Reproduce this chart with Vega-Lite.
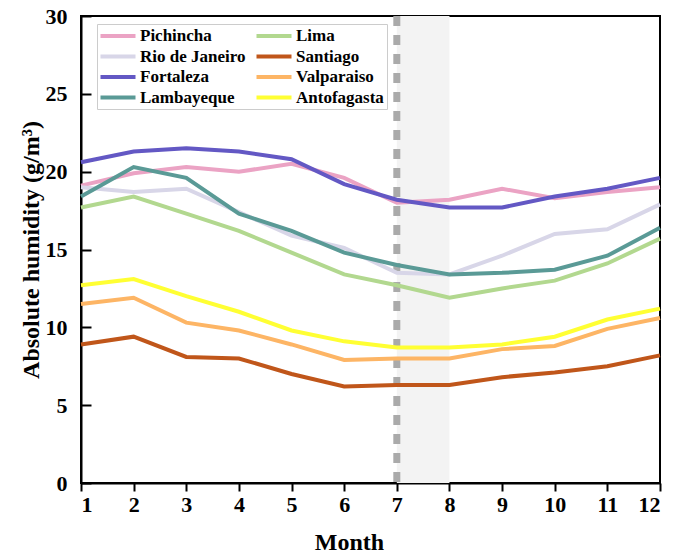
{
  "$schema": "https://vega.github.io/schema/vega-lite/v6.json",
  "width": 579,
  "height": 467,
  "autosize": "none",
  "padding": {"left": 81, "top": 16, "right": 13, "bottom": 73},
  "background": "white",
  "config": {
    "font": "Liberation Serif",
    "view": {"stroke": "black", "strokeWidth": 2},
    "axis": {
      "domainColor": "black", "domainWidth": 2, "tickColor": "black", "tickWidth": 2,
      "labelFont": "Liberation Serif", "labelFontWeight": "bold", "labelFontSize": 22, "labelColor": "black",
      "titleFont": "Liberation Serif", "titleFontWeight": "bold", "titleFontSize": 24, "titleColor": "black",
      "grid": false
    }
  },
  "datasets": {
    "shade": [{"month": 7, "month2": 8}],
    "rule": [{"month": 7}],
    "hum": [
      {"city": "Pichincha", "month": 1, "h": 19.1}, {"city": "Pichincha", "month": 2, "h": 19.9}, {"city": "Pichincha", "month": 3, "h": 20.3}, {"city": "Pichincha", "month": 4, "h": 20.0}, {"city": "Pichincha", "month": 5, "h": 20.5}, {"city": "Pichincha", "month": 6, "h": 19.6}, {"city": "Pichincha", "month": 7, "h": 18.0}, {"city": "Pichincha", "month": 8, "h": 18.2}, {"city": "Pichincha", "month": 9, "h": 18.9}, {"city": "Pichincha", "month": 10, "h": 18.3}, {"city": "Pichincha", "month": 11, "h": 18.7}, {"city": "Pichincha", "month": 12, "h": 19.0},
      {"city": "Rio de Janeiro", "month": 1, "h": 19.0}, {"city": "Rio de Janeiro", "month": 2, "h": 18.7}, {"city": "Rio de Janeiro", "month": 3, "h": 18.9}, {"city": "Rio de Janeiro", "month": 4, "h": 17.4}, {"city": "Rio de Janeiro", "month": 5, "h": 15.9}, {"city": "Rio de Janeiro", "month": 6, "h": 15.1}, {"city": "Rio de Janeiro", "month": 7, "h": 13.5}, {"city": "Rio de Janeiro", "month": 8, "h": 13.4}, {"city": "Rio de Janeiro", "month": 9, "h": 14.6}, {"city": "Rio de Janeiro", "month": 10, "h": 16.0}, {"city": "Rio de Janeiro", "month": 11, "h": 16.3}, {"city": "Rio de Janeiro", "month": 12, "h": 17.9},
      {"city": "Fortaleza", "month": 1, "h": 20.6}, {"city": "Fortaleza", "month": 2, "h": 21.3}, {"city": "Fortaleza", "month": 3, "h": 21.5}, {"city": "Fortaleza", "month": 4, "h": 21.3}, {"city": "Fortaleza", "month": 5, "h": 20.8}, {"city": "Fortaleza", "month": 6, "h": 19.2}, {"city": "Fortaleza", "month": 7, "h": 18.2}, {"city": "Fortaleza", "month": 8, "h": 17.7}, {"city": "Fortaleza", "month": 9, "h": 17.7}, {"city": "Fortaleza", "month": 10, "h": 18.4}, {"city": "Fortaleza", "month": 11, "h": 18.9}, {"city": "Fortaleza", "month": 12, "h": 19.6},
      {"city": "Lambayeque", "month": 1, "h": 18.4}, {"city": "Lambayeque", "month": 2, "h": 20.3}, {"city": "Lambayeque", "month": 3, "h": 19.6}, {"city": "Lambayeque", "month": 4, "h": 17.3}, {"city": "Lambayeque", "month": 5, "h": 16.2}, {"city": "Lambayeque", "month": 6, "h": 14.8}, {"city": "Lambayeque", "month": 7, "h": 14.0}, {"city": "Lambayeque", "month": 8, "h": 13.4}, {"city": "Lambayeque", "month": 9, "h": 13.5}, {"city": "Lambayeque", "month": 10, "h": 13.7}, {"city": "Lambayeque", "month": 11, "h": 14.6}, {"city": "Lambayeque", "month": 12, "h": 16.4},
      {"city": "Lima", "month": 1, "h": 17.7}, {"city": "Lima", "month": 2, "h": 18.4}, {"city": "Lima", "month": 3, "h": 17.3}, {"city": "Lima", "month": 4, "h": 16.2}, {"city": "Lima", "month": 5, "h": 14.8}, {"city": "Lima", "month": 6, "h": 13.4}, {"city": "Lima", "month": 7, "h": 12.7}, {"city": "Lima", "month": 8, "h": 11.9}, {"city": "Lima", "month": 9, "h": 12.5}, {"city": "Lima", "month": 10, "h": 13.0}, {"city": "Lima", "month": 11, "h": 14.1}, {"city": "Lima", "month": 12, "h": 15.7},
      {"city": "Santiago", "month": 1, "h": 8.9}, {"city": "Santiago", "month": 2, "h": 9.4}, {"city": "Santiago", "month": 3, "h": 8.1}, {"city": "Santiago", "month": 4, "h": 8.0}, {"city": "Santiago", "month": 5, "h": 7.0}, {"city": "Santiago", "month": 6, "h": 6.2}, {"city": "Santiago", "month": 7, "h": 6.3}, {"city": "Santiago", "month": 8, "h": 6.3}, {"city": "Santiago", "month": 9, "h": 6.8}, {"city": "Santiago", "month": 10, "h": 7.1}, {"city": "Santiago", "month": 11, "h": 7.5}, {"city": "Santiago", "month": 12, "h": 8.2},
      {"city": "Valparaiso", "month": 1, "h": 11.5}, {"city": "Valparaiso", "month": 2, "h": 11.9}, {"city": "Valparaiso", "month": 3, "h": 10.3}, {"city": "Valparaiso", "month": 4, "h": 9.8}, {"city": "Valparaiso", "month": 5, "h": 8.9}, {"city": "Valparaiso", "month": 6, "h": 7.9}, {"city": "Valparaiso", "month": 7, "h": 8.0}, {"city": "Valparaiso", "month": 8, "h": 8.0}, {"city": "Valparaiso", "month": 9, "h": 8.6}, {"city": "Valparaiso", "month": 10, "h": 8.8}, {"city": "Valparaiso", "month": 11, "h": 9.9}, {"city": "Valparaiso", "month": 12, "h": 10.6},
      {"city": "Antofagasta", "month": 1, "h": 12.7}, {"city": "Antofagasta", "month": 2, "h": 13.1}, {"city": "Antofagasta", "month": 3, "h": 12.0}, {"city": "Antofagasta", "month": 4, "h": 11.0}, {"city": "Antofagasta", "month": 5, "h": 9.8}, {"city": "Antofagasta", "month": 6, "h": 9.1}, {"city": "Antofagasta", "month": 7, "h": 8.7}, {"city": "Antofagasta", "month": 8, "h": 8.7}, {"city": "Antofagasta", "month": 9, "h": 8.9}, {"city": "Antofagasta", "month": 10, "h": 9.4}, {"city": "Antofagasta", "month": 11, "h": 10.5}, {"city": "Antofagasta", "month": 12, "h": 11.2}
    ]
  },
  "layer": [
    {
      "data": {"name": "shade"},
      "mark": {"type": "rect", "color": "#f3f3f3"},
      "encoding": {
        "x": {"field": "month", "type": "quantitative"},
        "x2": {"field": "month2"}
      }
    },
    {
      "data": {"name": "rule"},
      "mark": {"type": "rule", "color": "#aaaaaa", "strokeWidth": 7, "strokeDash": [10, 9]},
      "encoding": {
        "x": {"field": "month", "type": "quantitative"}
      }
    },
    {
      "data": {"name": "hum"},
      "mark": {"type": "line", "strokeWidth": 4},
      "encoding": {
        "x": {
          "field": "month", "type": "quantitative",
          "scale": {"domain": [1, 12], "nice": false, "zero": false},
          "axis": {"title": "Month", "values": [1,2,3,4,5,6,7,8,9,10,11,12], "tickSize": 8, "labelPadding": 3, "titlePadding": 15, "titleX": 268}
        },
        "y": {
          "field": "h", "type": "quantitative",
          "scale": {"domain": [0, 30], "nice": false},
          "axis": {"title": "Absolute humidity (g/m³)", "values": [0,5,10,15,20,25,30], "tickSize": -10, "labelPadding": 24, "titlePadding": 2}
        },
        "color": {
          "field": "city", "type": "nominal",
          "scale": {
            "domain": ["Pichincha", "Rio de Janeiro", "Fortaleza", "Lambayeque", "Lima", "Santiago", "Valparaiso", "Antofagasta"],
            "range": ["#eba3c4", "#d8d6e8", "#6358c4", "#5a9a96", "#b2d88f", "#c0561a", "#fdb565", "#ffff33"]
          },
          "legend": {
            "title": null, "orient": "none", "legendX": 16, "legendY": 8, "columns": 2,
            "symbolType": "M-2.5,0H2.5", "symbolSize": 196, "symbolStrokeWidth": 4, "symbolOffset": 9,
            "labelFont": "Liberation Serif", "labelFontWeight": "bold", "labelFontSize": 17, "labelColor": "black", "labelOffset": 13,
            "strokeColor": "#cccccc", "fillColor": "white", "padding": 3, "rowPadding": 3.5, "columnPadding": 2
          }
        }
      }
    }
  ]
}
